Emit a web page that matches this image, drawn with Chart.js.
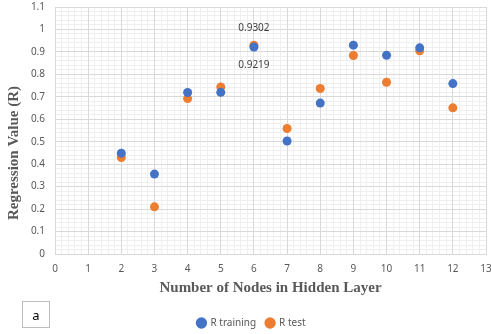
<!DOCTYPE html>
<html><head><meta charset="utf-8">
<script src="https://cdn.jsdelivr.net/npm/chart.js@4.4.1/dist/chart.umd.min.js"></script>
<style>
html,body{margin:0;padding:0;background:#fff;}
#wrap{position:relative;width:491px;height:334px;}
#abox{position:absolute;left:22px;top:301px;width:28px;height:27px;border:1px solid #bfbfbf;font:13px "Noto Sans",sans-serif;color:#000;display:flex;align-items:center;justify-content:center;box-sizing:border-box;}
</style></head>
<body><div id="wrap"><canvas id="c" width="491" height="334"></canvas><div id="abox">a</div></div>
<script>
const nodes = [2,3,4,5,6,7,8,9,10,11,12];
const rTraining = [0.449,0.356,0.719,0.720,0.9219,0.503,0.672,0.930,0.885,0.918,0.759];
const rTest = [0.430,0.210,0.692,0.744,0.9302,0.559,0.737,0.884,0.765,0.905,0.651];
const seriesNames = ['R training','R test'];
const xTitle = 'Number of Nodes in Hidden Layer';
const yTitle = 'Regression Value (R)';
const labelledIndex = 4;

const grey = '#595959';
const tickFont = {family:'"Noto Sans", sans-serif', size:10};

const labelsPlugin = {
  id:'labels',
  afterDatasetsDraw(chart){
    const ctx = chart.ctx, xs = chart.scales.x, ys = chart.scales.y;
    ctx.save();
    ctx.font = '10px "Noto Sans", sans-serif';
    ctx.fillStyle = '#404040';
    ctx.textAlign='center'; ctx.textBaseline='middle';
    const px = xs.getPixelForValue(nodes[labelledIndex]);
    ctx.fillText(rTest[labelledIndex].toFixed(4), px, ys.getPixelForValue(rTest[labelledIndex]) - 17);
    ctx.fillText(rTraining[labelledIndex].toFixed(4), px, ys.getPixelForValue(rTraining[labelledIndex]) + 18);
    // y axis title
    ctx.translate(14, 153);
    ctx.rotate(-Math.PI/2);
    ctx.font = 'bold 15px "Liberation Serif", serif';
    ctx.fillStyle = grey;
    ctx.fillText(yTitle, 0, 0);
    ctx.restore();
  }
};

new Chart(document.getElementById('c'), {
  type:'scatter',
  data:{datasets:[
    {label:seriesNames[0], data:nodes.map((n,i)=>({x:n,y:rTraining[i]})), backgroundColor:'#4472C4', borderColor:'#4472C4', pointRadius:4.5, pointHoverRadius:4.5, borderWidth:0},
    {label:seriesNames[1], data:nodes.map((n,i)=>({x:n,y:rTest[i]})), backgroundColor:'#ED7D31', borderColor:'#ED7D31', pointRadius:4.5, pointHoverRadius:4.5, borderWidth:0}
  ]},
  options:{
    responsive:false, animation:false,
    layout:{padding:{top:7,right:5,left:17,bottom:-4}},
    plugins:{
      legend:{position:'bottom', labels:{usePointStyle:true, pointStyle:'circle', boxWidth:8, boxHeight:8, color:grey, font:{family:'"Noto Sans", sans-serif', size:10}, padding:10}},
      tooltip:{enabled:false}
    },
    scales:{
      xm:{type:'linear', position:'bottom', min:0, max:13, z:-2, ticks:{display:false, stepSize:0.2}, grid:{color:'#efefef', drawTicks:false}, border:{display:false}, afterFit(s){s.height=0;s.paddingLeft=0;s.paddingRight=0;}},
      ym:{type:'linear', position:'left', min:0, max:1.1, z:-2, ticks:{display:false, stepSize:0.02}, grid:{color:'#efefef', drawTicks:false}, border:{display:false}, afterFit(s){s.width=0;s.paddingTop=0;s.paddingBottom=0;}},
      x:{type:'linear', position:'bottom', min:0, max:13, ticks:{stepSize:1, color:grey, font:tickFont, padding:9}, grid:{color:'#d9d9d9', drawTicks:false}, border:{color:'#d9d9d9'},
        title:{display:true, text:xTitle, color:grey, font:{family:'"Liberation Serif", serif', size:15, weight:'bold'}, padding:{top:4,bottom:11}},
        afterFit(s){s.height=54;s.paddingLeft=0;s.paddingRight=0;}},
      y:{type:'linear', position:'left', min:0, max:1.1, ticks:{stepSize:0.1, color:grey, font:tickFont, padding:10, callback:v=>Math.round(v*10)/10}, grid:{color:'#d9d9d9', drawTicks:false}, border:{color:'#d9d9d9'},
        afterFit(s){s.width=38;s.paddingTop=0;s.paddingBottom=0;}}
    }
  },
  plugins:[labelsPlugin]
});
</script></body></html>
